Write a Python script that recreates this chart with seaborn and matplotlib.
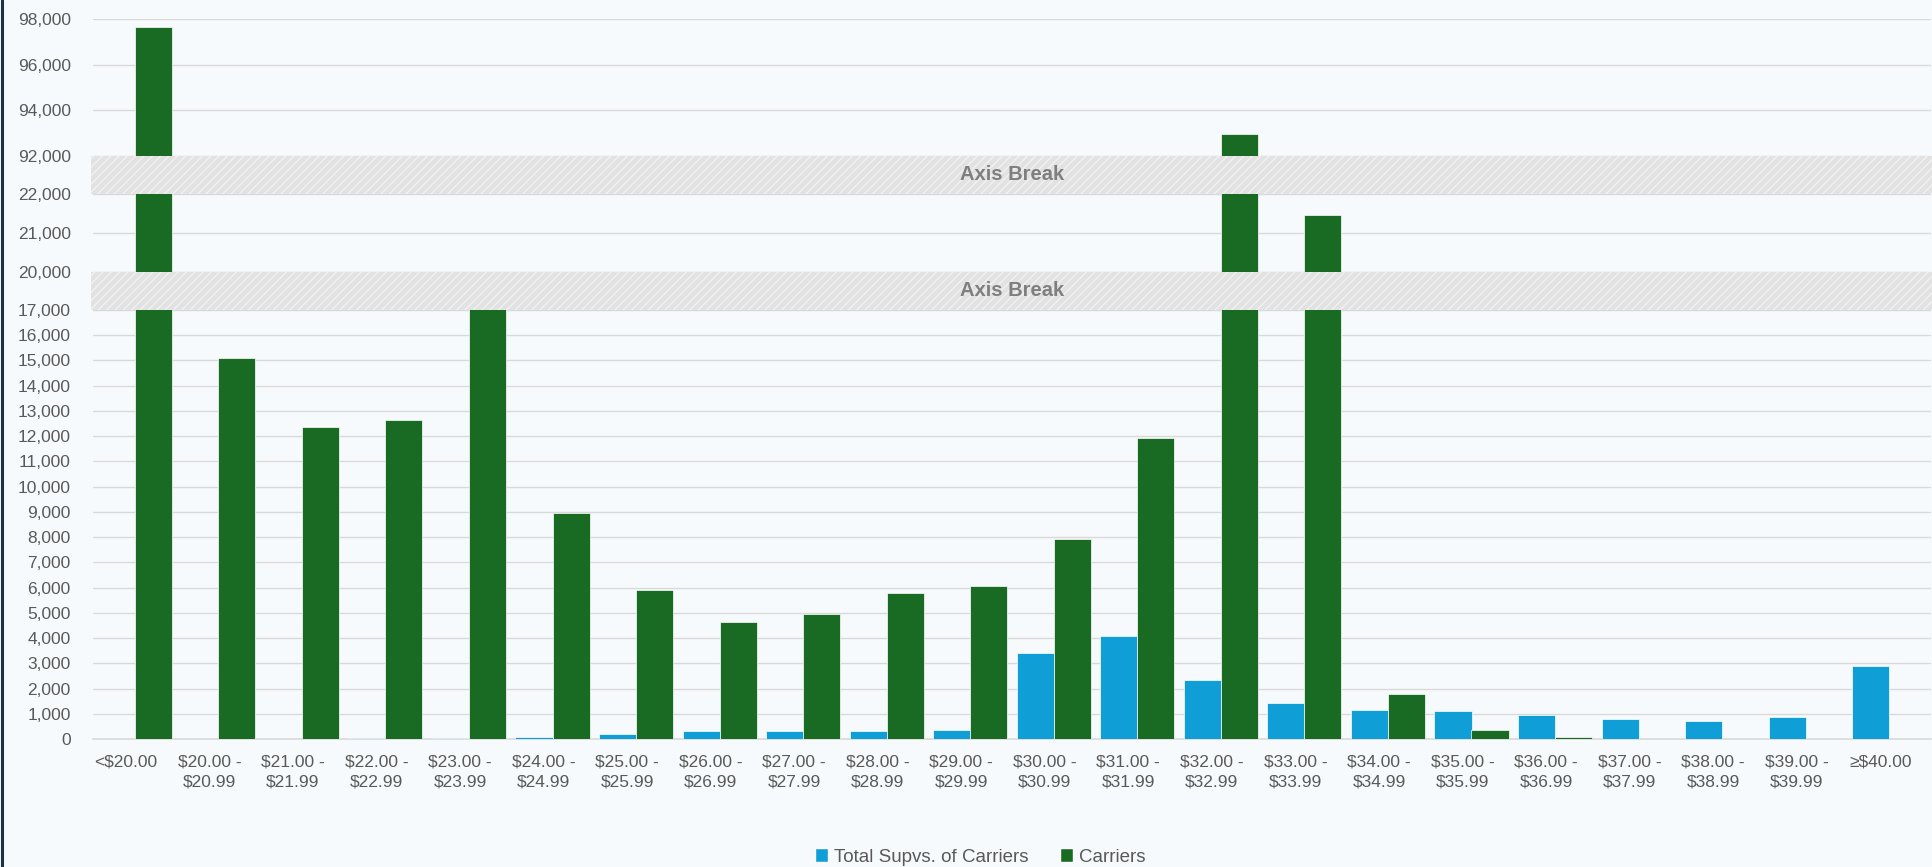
import matplotlib
matplotlib.use("Agg")
import matplotlib.pyplot as plt
from matplotlib.patches import Rectangle
from matplotlib.lines import Line2D
from matplotlib.ticker import FuncFormatter
from matplotlib.transforms import ScaledTranslation
import pandas as pd
import seaborn as sns

# Data
categories = [
    "<$20.00", "$20.00 -\n$20.99", "$21.00 -\n$21.99", "$22.00 -\n$22.99",
    "$23.00 -\n$23.99", "$24.00 -\n$24.99", "$25.00 -\n$25.99", "$26.00 -\n$26.99",
    "$27.00 -\n$27.99", "$28.00 -\n$28.99", "$29.00 -\n$29.99", "$30.00 -\n$30.99",
    "$31.00 -\n$31.99", "$32.00 -\n$32.99", "$33.00 -\n$33.99", "$34.00 -\n$34.99",
    "$35.00 -\n$35.99", "$36.00 -\n$36.99", "$37.00 -\n$37.99", "$38.00 -\n$38.99",
    "$39.00 -\n$39.99", "≥$40.00",
]
supervisors = [0, 0, 0, 30, 55, 85, 200, 325, 330, 300, 360, 3410, 4070, 2345,
               1420, 1160, 1100, 970, 790, 700, 890, 2880]
carriers = [97660, 15090, 12350, 12660, 17900, 8970, 5900, 4650, 4950, 5800, 6050,
            7920, 11920, 92950, 21460, 1770, 340, 80, 15, 10, 10, 0]
series_names = ["Total Supvs. of Carriers", "Carriers"]

# broken y axis: ylim and ticks for top, middle and bottom panels
panel_ylims = [(92000, 98000), (20000, 22000), (0, 17000)]
panel_ticks = [range(92000, 98001, 2000), range(20000, 22001, 1000), range(0, 17001, 1000)]

BG = "#F7FAFC"
BLUE = "#0F9ED5"
GREEN = "#196B24"
GRID = "#D9D9D9"
TEXT = "#595959"

df = pd.DataFrame({
    "band": categories * 2,
    "series": [series_names[0]] * len(categories) + [series_names[1]] * len(categories),
    "value": supervisors + carriers,
})

sns.set_theme(style="white")
plt.rcParams["font.family"] = ["Liberation Sans", "DejaVu Sans"]
plt.rcParams["hatch.linewidth"] = 0.9

W, H = 1932, 867
fig = plt.figure(figsize=(W / 100, H / 100), dpi=100, facecolor=BG)

# panel placement in pixels (left/right edges, then top/bottom of each panel)
L, R = 93, 1931
panel_px = [(19, 156), (194, 272), (310, 739)]
axes = []
for (top, bottom), ylim, ticks in zip(panel_px, panel_ylims, panel_ticks):
    ax = fig.add_axes([L / W, 1 - bottom / H, (R - L) / W, (bottom - top) / H])
    ax.set_facecolor(BG)
    sns.barplot(data=df, x="band", y="value", hue="series", saturation=1,
                palette=[BLUE, GREEN], width=0.886, edgecolor="white",
                linewidth=0.5, ax=ax, zorder=3)
    ax.set_xlim(-0.5, len(categories) - 0.5)
    ax.set_ylim(*ylim)
    ax.set_yticks(list(ticks))
    ax.yaxis.set_major_formatter(FuncFormatter(lambda v, p: f"{int(v):,}"))
    ax.grid(axis="y", color=GRID, linewidth=1.0, zorder=0)
    ax.tick_params(axis="y", length=0, pad=16, labelsize=12.5, labelcolor=TEXT)
    ax.set_xlabel("")
    ax.set_ylabel("")
    for s in ax.spines.values():
        s.set_visible(False)
    if ax.get_legend() is not None:
        ax.get_legend().remove()
    axes.append(ax)

for ax in axes[:2]:
    ax.set_xticks([])

# category axis on the bottom panel
ax = axes[2]
ax.spines["bottom"].set_visible(True)
ax.spines["bottom"].set_color(GRID)
ax.spines["bottom"].set_linewidth(1.2)
ax.set_xticks(range(len(categories)))
ax.set_xticklabels(categories, linespacing=1.45)
ax.set_xticks([i - 0.5 for i in range(len(categories) + 1)], minor=True)
ax.tick_params(axis="x", which="major", length=0, pad=11, labelsize=12.5, labelcolor=TEXT)
ax.tick_params(axis="x", which="minor", length=9, direction="inout", color=GRID, width=1.2)
shift = ScaledTranslation(-9 / 100, 0, fig.dpi_scale_trans)
for lab in ax.get_xticklabels():
    lab.set_transform(lab.get_transform() + shift)

# hatched axis-break bands
for top, bottom in [(156, 194), (272, 310)]:
    fig.patches.append(Rectangle((91 / W, 1 - bottom / H), (W - 91) / W, (bottom - top) / H,
                                 transform=fig.transFigure, facecolor="#E2E2E2",
                                 edgecolor="#F3F3F3", hatch="////", linewidth=0, zorder=2))
    fig.text((L + R) / 2 / W, 1 - (top + bottom) / 2 / H, "Axis Break", ha="center",
             va="center", color="#7F7F7F", fontweight="bold", fontsize=14.5, zorder=3)

# dark left border
fig.add_artist(Line2D([1.5 / W, 1.5 / W], [0, 1], transform=fig.transFigure,
                      color="#1B3445", linewidth=2.2))

handles = [Rectangle((0, 0), 1, 1, facecolor=BLUE), Rectangle((0, 0), 1, 1, facecolor=GREEN)]
fig.legend(handles, series_names, loc="center", bbox_to_anchor=(980 / W, 1 - 857 / H),
           ncol=2, frameon=False, fontsize=13.5, labelcolor=TEXT, handlelength=0.7,
           handleheight=0.7, handletextpad=0.3, columnspacing=1.7)

fig.savefig("out.png", dpi=100, facecolor=BG)
